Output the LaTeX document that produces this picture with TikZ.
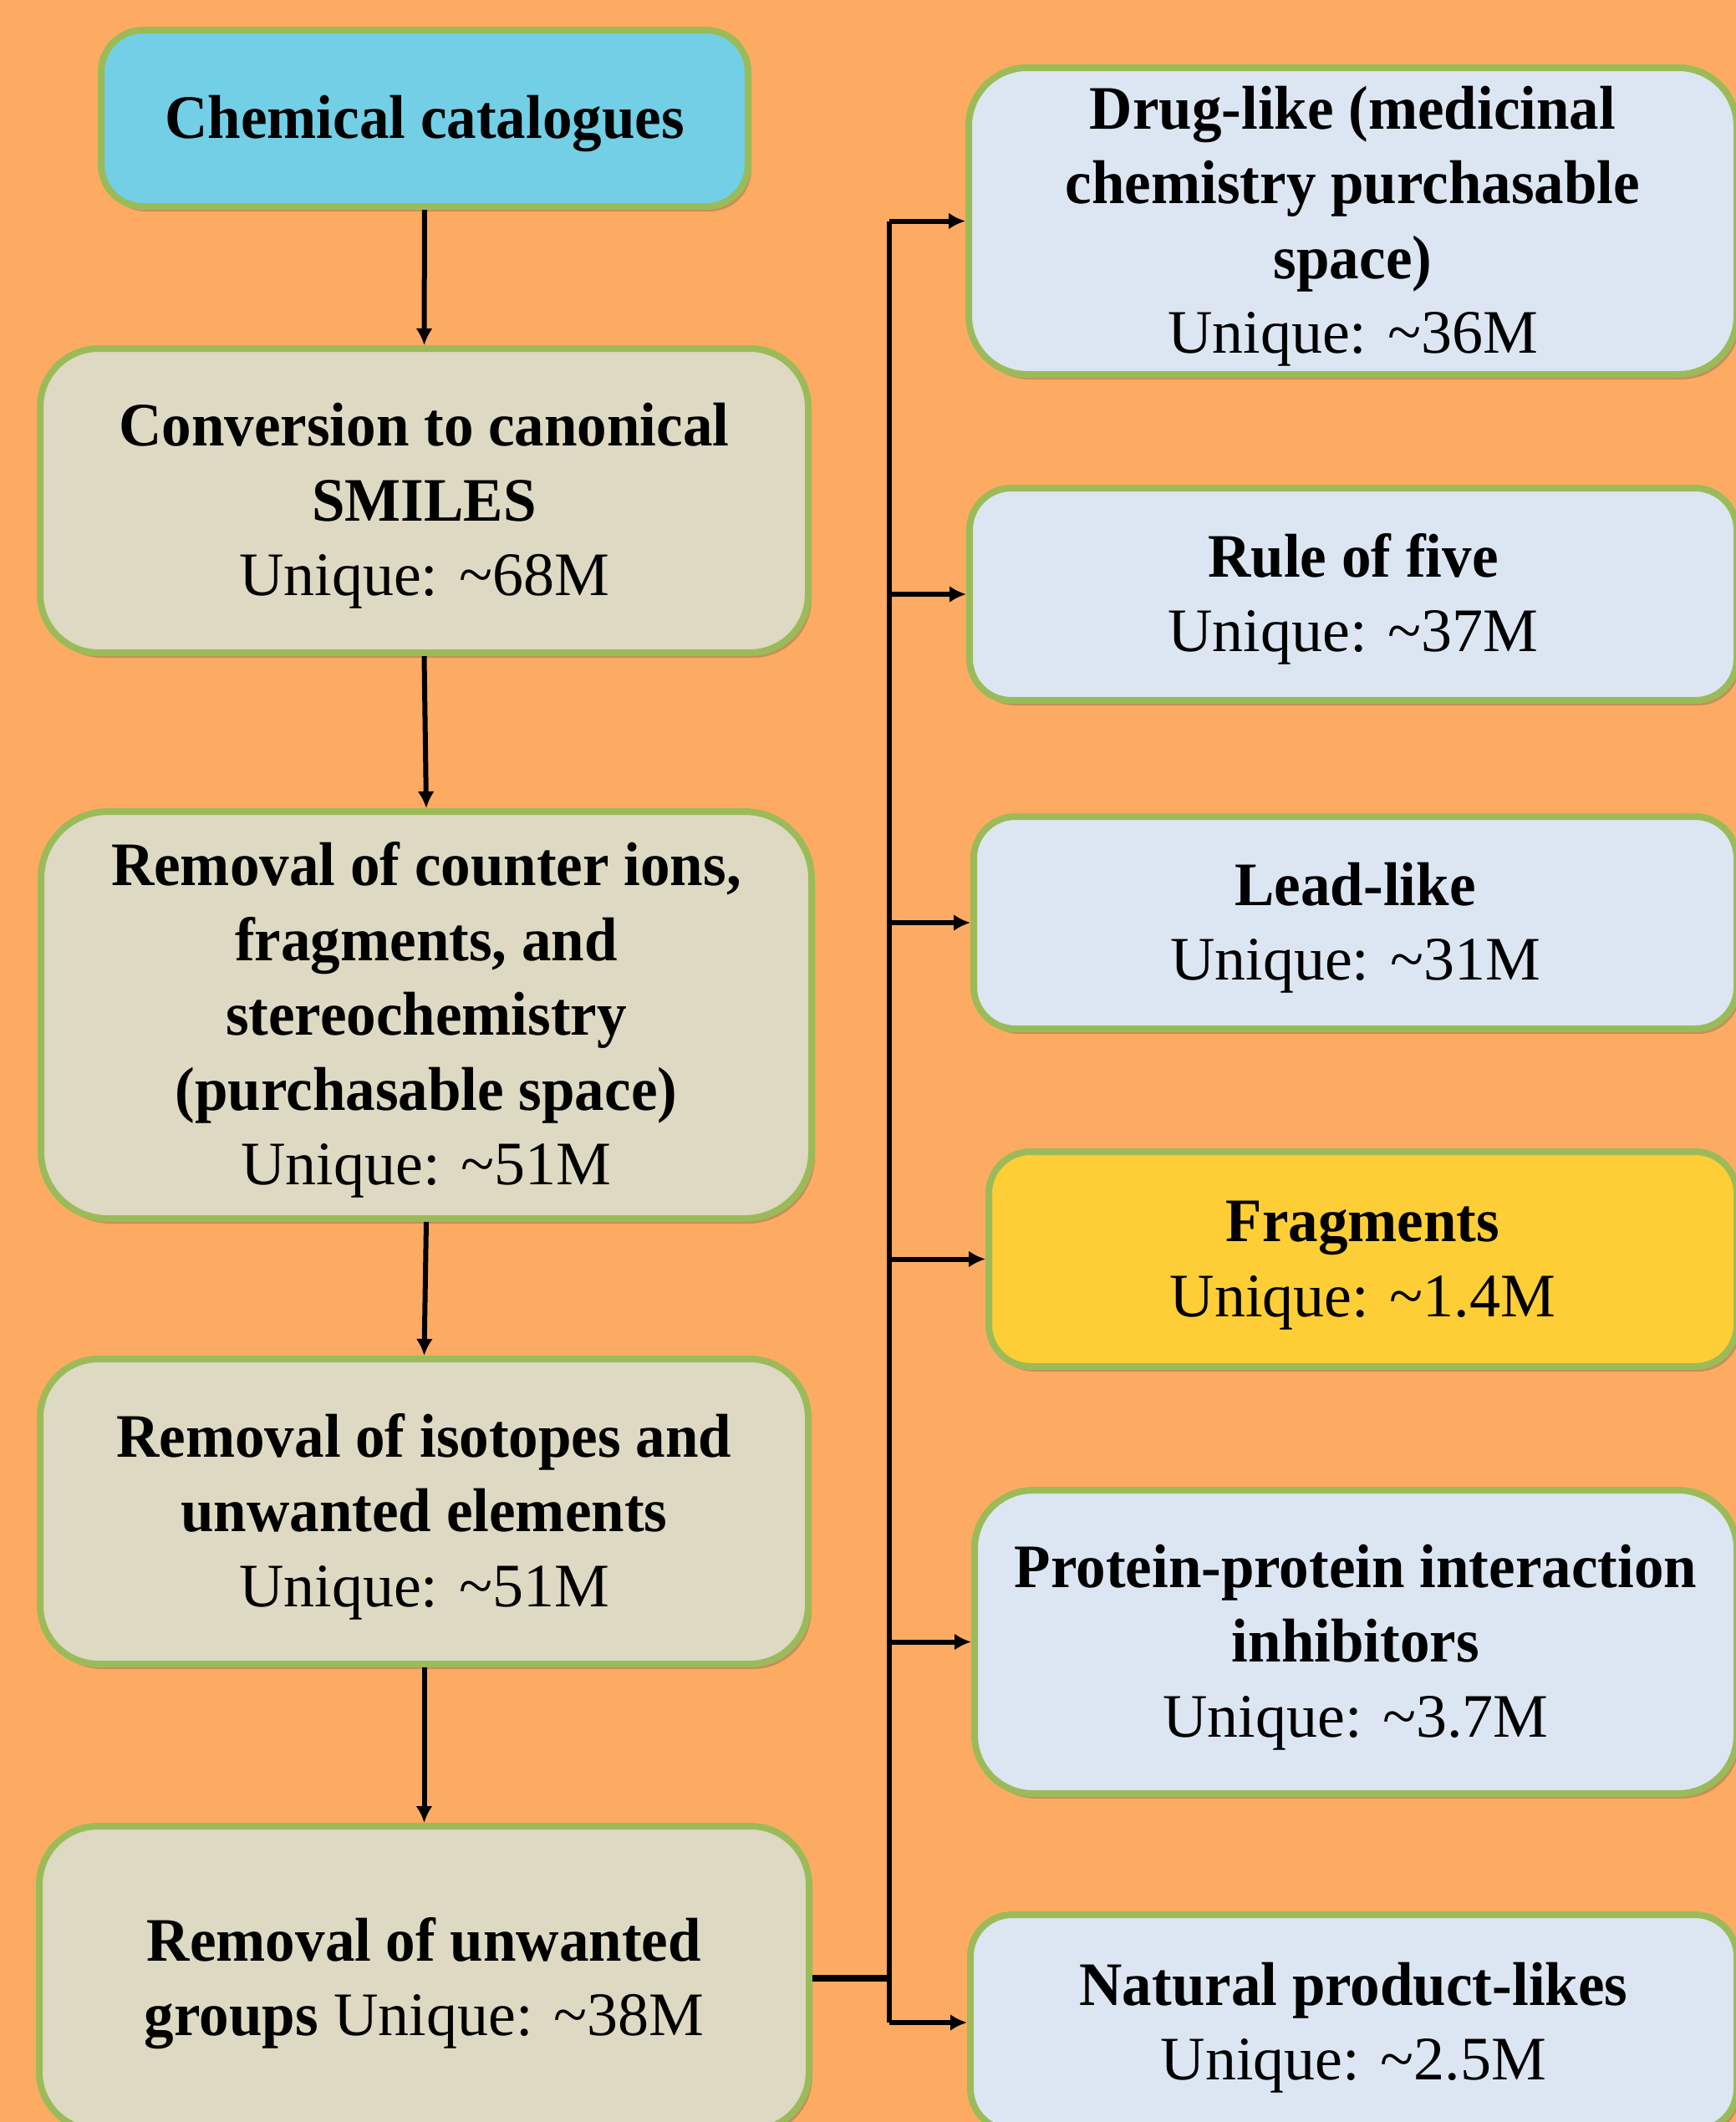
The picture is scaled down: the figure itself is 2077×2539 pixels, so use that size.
\documentclass[tikz,border=0pt]{standalone}
\usepackage{fontspec}
\setmainfont{Liberation Serif}[BoldFeatures={FakeStretch=0.96}]
\usetikzlibrary{arrows.meta,shadows}
\definecolor{bg}{RGB}{253,171,98}
\definecolor{bord}{RGB}{155,187,89}
\definecolor{tanbox}{RGB}{221,217,195}
\definecolor{lblue}{RGB}{220,230,242}
\definecolor{cyanbox}{RGB}{114,207,229}
\definecolor{yelbox}{RGB}{254,206,54}
\newcommand\fstrut{\rule{0pt}{32pt}}
\tikzset{
  box/.style={draw=bord, line width=4pt, align=center, inner sep=0pt,
    font=\fontsize{37}{44.75}\selectfont,
    drop shadow={shadow xshift=2pt, shadow yshift=-3pt, opacity=0.3, fill=black!70}},
  lbox/.style={box, fill=tanbox, rounded corners=35pt},
  rbox/.style={box, fill=lblue, rounded corners=25pt},
  conn/.style={line width=3pt, draw=black},
  arr/.style={conn, -{Latex[length=10pt,width=10pt]}},
}
\begin{document}
\begin{tikzpicture}[x=0.5pt,y=-0.5pt]
\useasboundingbox (0,0) rectangle (2077,2539);
\clip (0,0) rectangle (2077,2539);
\fill[bg] (0,0) rectangle (2077,2539);

% left column
\node[box, fill=cyanbox, rounded corners=25pt, minimum width=387pt, minimum height=105.5pt] (L1) at (508,141.5) {\fstrut\textbf{Chemical catalogues}};
\node[lbox, minimum width=459.5pt, minimum height=182pt] (L2) at (507.5,599) {\fstrut\textbf{Conversion to canonical}\\\textbf{SMILES}\\Unique: \textasciitilde68M};
\node[lbox, rounded corners=40pt, minimum width=461pt, minimum height=243.5pt] (L3) at (510,1214.5) {\fstrut\textbf{Removal of counter ions,}\\\textbf{fragments, and}\\\textbf{stereochemistry}\\\textbf{(purchasable space)}\\Unique: \textasciitilde51M};
\node[lbox, minimum width=459.5pt, minimum height=182.5pt] (L4) at (507.5,1808.5) {\fstrut\textbf{Removal of isotopes and}\\\textbf{unwanted elements}\\Unique: \textasciitilde51M};
\node[lbox, minimum width=460.5pt, minimum height=182pt] (L5) at (507.5,2367) {\fstrut\textbf{Removal of unwanted}\\\textbf{groups} Unique: \textasciitilde38M};

% right column
\node[rbox, rounded corners=35pt, minimum width=459.5pt, minimum height=183.5pt] (R1) at (1618.5,264.5) {\fstrut\textbf{Drug-like (medicinal}\\\textbf{chemistry purchasable}\\\textbf{space)}\\Unique: \textasciitilde36M};
\node[rbox, minimum width=459pt, minimum height=127pt] (R2) at (1619,711) {\fstrut\textbf{Rule of five}\\Unique: \textasciitilde37M};
\node[rbox, minimum width=456.5pt, minimum height=127pt] (R3) at (1621.5,1104) {\fstrut\textbf{Lead-like}\\Unique: \textasciitilde31M};
\node[rbox, fill=yelbox, minimum width=447.5pt, minimum height=128.5pt] (R4) at (1630.5,1506.5) {\fstrut\textbf{Fragments}\\Unique: \textasciitilde1.4M};
\node[rbox, rounded corners=35pt, minimum width=456pt, minimum height=181.5pt] (R5) at (1622,1964.5) {\fstrut\textbf{Protein-protein interaction}\\\textbf{inhibitors}\\Unique: \textasciitilde3.7M};
\node[rbox, minimum width=458.5pt, minimum height=129pt] (R6) at (1619.5,2420) {\fstrut\textbf{Natural product-likes}\\Unique: \textasciitilde2.5M};

% vertical arrows
\draw[arr] (L1.south) -- (L2.north);
\draw[arr] (L2.south) -- (L3.north);
\draw[arr] (L3.south) -- (L4.north);
\draw[arr] (L4.south) -- (L5.north);

% bus
\coordinate (bx) at (1064,0);
\draw[conn, line width=4pt] (L5.east) -- (L5.east -| bx);
\draw[conn] (R1.west -| bx) -- (R6.west -| bx);
\foreach \r in {R1,R2,R3,R4,R5,R6}
  \draw[arr] (\r.west -| bx) -- (\r.west);
\end{tikzpicture}
\end{document}
